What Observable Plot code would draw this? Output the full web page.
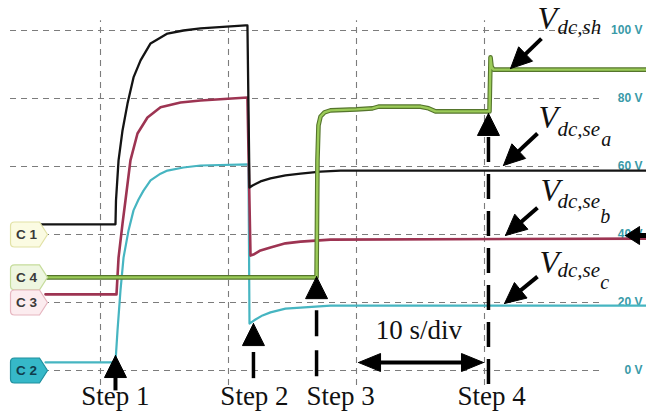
<!DOCTYPE html>
<html><head><meta charset="utf-8">
<script src="https://cdn.jsdelivr.net/npm/d3@7"></script>
<script src="https://cdn.jsdelivr.net/npm/@observablehq/plot@0.6"></script>
<style>html,body{margin:0;padding:0;background:#fff;} #chart svg{display:block;}</style>
</head><body><div id="chart"></div>
<script>
// ---- data (time in s, screen volts) ----
const tSeA = [5.08, 11.17, 11.21, 11.41, 11.72, 12.11, 12.58, 13.13, 13.91, 15.23, 16.48, 17.81, 21.33, 21.48, 21.64, 21.88, 22.50, 23.28, 24.45, 25.63, 27.19, 28.75, 52.66];
const vSeA = [43.0, 43.0, 50.0, 61.8, 70.6, 78.5, 86.2, 91.2, 96.2, 99.1, 100.0, 100.6, 101.5, 101.5, 53.8, 54.4, 55.6, 56.5, 57.4, 57.9, 58.5, 58.8, 58.8];
const tSeB = [5.70, 11.25, 11.41, 11.72, 11.95, 12.34, 12.89, 13.67, 14.69, 16.25, 17.81, 21.48, 21.72, 21.95, 22.50, 23.28, 24.45, 25.63, 27.97, 52.66];
const vSeB = [22.4, 22.4, 33.2, 43.2, 50.0, 61.8, 69.7, 74.4, 77.4, 78.8, 79.4, 80.3, 33.8, 34.1, 35.3, 36.2, 37.4, 37.9, 38.5, 38.8];
const tSeC = [5.70, 11.17, 11.33, 11.56, 11.80, 12.19, 12.58, 12.97, 13.36, 13.91, 14.69, 15.23, 16.48, 17.81, 21.56, 21.64, 22.11, 22.66, 23.28, 24.45, 25.63, 27.97, 52.66];
const vSeC = [2.4, 2.4, 11.8, 23.5, 33.2, 41.2, 47.1, 50.3, 52.9, 55.9, 57.9, 58.8, 59.7, 60.3, 60.6, 13.8, 15.0, 16.2, 17.1, 18.2, 18.5, 19.1, 19.1];
const tSh  = [5.70, 26.88, 26.95, 27.03, 27.19, 27.50, 27.97, 30.00, 31.25, 31.72, 35.00, 35.63, 36.17, 40.39, 40.47, 40.55, 40.70, 52.66];
const vSh  = [27.4, 27.4, 61.8, 72.1, 74.7, 75.9, 76.5, 76.8, 77.1, 77.6, 77.6, 77.1, 76.2, 76.2, 92.1, 89.4, 88.5, 88.5];

const gridVolts = [0, 20, 40, 60, 80, 100];
const voltLabels = ["0 V", "20 V", "40 V", "60 V", "80 V", "100 V"];
const gridTimes = [10, 20, 30, 40];
const channels = ["C 1", "C 4", "C 3", "C 2"];
const channelLevels = [40, 27.4, 20, 0];
const steps = ["Step 1", "Step 2", "Step 3", "Step 4"];
const stepTimes = [11.17, 21.95, 26.88, 40.31];
const timeDiv = "10 s/div";

// ---- scales (shared with geometry helpers) ----
const xDomain = [10, 40], xRange = [100, 484];
const yDomain = [0, 100], yRange = [370, 30];
const sx = d3.scaleLinear(xDomain, xRange), sy = d3.scaleLinear(yDomain, yRange);

const pts = (t, v) => t.map((d, i) => ({t: d, v: v[i]}));

// filled arrowhead polygon: tip at (t,v), pointing angle (deg, 0 = up, clockwise)
function head(id, t, v, angle, L, W) {
  const a = angle * Math.PI / 180, ux = Math.sin(a), uy = -Math.cos(a);
  const px = sx(t), py = sy(v), bx = px - L * ux, by = py - L * uy, nx = -uy, ny = ux;
  return [[px, py], [bx + W / 2 * nx, by + W / 2 * ny], [bx - W / 2 * nx, by - W / 2 * ny], [px, py]]
    .map(([x, y]) => ({id, t: sx.invert(x), v: sy.invert(y)}));
}
function diag(id, t0, v0, t1, v1) {
  const dx = sx(t1) - sx(t0), dy = sy(v1) - sy(v0);
  const ang = Math.atan2(dx, -dy) * 180 / Math.PI;
  const len = Math.hypot(dx, dy);
  const ex = sx(t1) - dx / len * 10, ey = sy(v1) - dy / len * 10;
  return {poly: head(id, t1, v1, ang, 21, 20), stem: {t0, v0, t1: sx.invert(ex), v1: sy.invert(ey)}};
}

const stepTips = [4.4, 13.8, 27.6, 75.6];
const heads = [];
stepTimes.forEach((t, i) => heads.push(...head("s" + i, t, stepTips[i], 0, 22, 22)));
heads.push(...head("dl", 30.16, 2.35, -90, 22, 18));
heads.push(...head("dr", 39.92, 2.35, 90, 22, 18));
heads.push(...head("trig", 51.02, 39.7, -90, 14, 18));
const diags = [
  diag("sh", 44.45, 97.6, 42.03, 88.8),
  diag("a", 44.14, 69.7, 41.48, 60.3),
  diag("b", 44.14, 47.9, 41.64, 39.7),
  diag("c", 44.14, 27.6, 41.56, 19.7)
];
diags.forEach(d => heads.push(...d.poly));

const tagSymbol = {
  draw(ctx) {
    ctx.moveTo(0, 0); ctx.lineTo(-8, -12.5); ctx.lineTo(-33, -12.5);
    ctx.quadraticCurveTo(-37, -12.5, -37, -8.5); ctx.lineTo(-37, 8.5);
    ctx.quadraticCurveTo(-37, 12.5, -33, 12.5); ctx.lineTo(-8, 12.5); ctx.closePath();
  }
};
const tagStyles = [
  {fill: "#fbfbe2", stroke: "#e2e2a6", text: "#3a3a3a"},
  {fill: "#eef6e0", stroke: "#c6dc9c", text: "#3a3a3a"},
  {fill: "#fcecef", stroke: "#e6b6c0", text: "#3a3a3a"},
  {fill: "#36b8c8", stroke: "#1f8f9e", text: "#0f3c4c"}
];

const serif = "'Liberation Serif', 'Times New Roman', serif";
const sans = "'Liberation Sans', Arial, sans-serif";

const vLabels = [
  {V: [44.14, 100.3], sub: [45.70, 99.0, "dc,sh"], ss: null},
  {V: [44.22, 71.2], sub: [45.70, 69.1, "dc,se"], ss: [49.12, 65.9, "a"]},
  {V: [44.38, 50.0], sub: [45.70, 47.9, "dc,se"], ss: [49.05, 43.5, "b"]},
  {V: [44.30, 28.8], sub: [45.70, 27.4, "dc,se"], ss: [49.05, 24.1, "c"]}
];

const marks = [
  Plot.ruleY(gridVolts, {y: d => d, x1: 2.97, x2: 49.3, stroke: "#7c7c7c", strokeWidth: 1.1, strokeDasharray: "6,5"}),
  Plot.ruleX(gridTimes, {x: d => d, y1: -4.4, y2: 102.9, stroke: "#7c7c7c", strokeWidth: 1.1, strokeDasharray: "6,5"}),
  Plot.text(gridVolts, {x: 52.34, y: d => d, text: (d, i) => voltLabels[i], textAnchor: "end", fill: "#3a9aa8", fontSize: 12, fontWeight: "bold", fontFamily: sans}),
  Plot.line(pts(tSeC, vSeC), {x: "t", y: "v", stroke: "#46b5c1", strokeWidth: 2.2}),
  Plot.line(pts(tSeB, vSeB), {x: "t", y: "v", stroke: "#9d3452", strokeWidth: 2.6}),
  Plot.line(pts(tSeA, vSeA), {x: "t", y: "v", stroke: "#141414", strokeWidth: 2.3}),
  Plot.line(pts(tSh, vSh), {x: "t", y: "v", stroke: "#55752c", strokeWidth: 4.6}),
  Plot.line(pts(tSh, vSh), {x: "t", y: "v", stroke: "#9bcb58", strokeWidth: 2.4}),
];
channels.forEach((c, i) => {
  const s = tagStyles[i];
  marks.push(Plot.dot([c], {x: 5.86, y: channelLevels[i], symbol: tagSymbol, r: 10, fill: s.fill, stroke: s.stroke, strokeWidth: 1.2}));
  marks.push(Plot.text([c], {x: 5.86, y: channelLevels[i], dx: -21, text: d => d, fill: s.text, fontSize: 13.5, fontWeight: "bold", fontFamily: sans}));
});
// step arrows
marks.push(Plot.ruleX([stepTimes[0]], {x: d => d, y1: -1.5, y2: -6.0, stroke: "#000", strokeWidth: 4}));
marks.push(Plot.ruleX([stepTimes[1]], {x: d => d, y1: 5.3, y2: -2.4, stroke: "#000", strokeWidth: 3.5}));
marks.push(Plot.ruleX([stepTimes[2]], {x: d => d, y1: 17.6, y2: -2.1, stroke: "#000", strokeWidth: 3.5, strokeDasharray: "26,14"}));
marks.push(Plot.ruleX([stepTimes[3]], {x: d => d, y1: 68.5, y2: -4.4, stroke: "#000", strokeWidth: 3.5, strokeDasharray: "25,12"}));
marks.push(Plot.text(steps, {x: (d, i) => [11.17, 22.03, 28.75, 40.55][i], y: -10, text: d => d, lineAnchor: "bottom", fontFamily: serif, fontSize: 27, fill: "#111"}));
// 10 s/div
marks.push(Plot.ruleY([2.35], {y: d => d, x1: 30.8, x2: 39.3, stroke: "#000", strokeWidth: 4}));
marks.push(Plot.text([timeDiv], {x: 34.88, y: 9.41, text: d => d, lineAnchor: "bottom", fontFamily: serif, fontSize: 27, fill: "#111"}));
// trigger marker stem
marks.push(Plot.ruleY([39.7], {y: d => d, x1: 51.9, x2: 52.7, stroke: "#000", strokeWidth: 5}));
// diagonal arrows
marks.push(Plot.link(diags.map(d => d.stem), {x1: "t0", y1: "v0", x2: "t1", y2: "v1", stroke: "#000", strokeWidth: 4}));
marks.push(Plot.line(heads, {x: "t", y: "v", z: "id", fill: "#000", stroke: "#000", strokeWidth: 1}));
// V labels
vLabels.forEach(l => {
  marks.push(Plot.text(["V"], {x: l.V[0], y: l.V[1], text: d => d, textAnchor: "start", lineAnchor: "bottom", fontFamily: serif, fontStyle: "italic", fontSize: 32, fill: "#111"}));
  marks.push(Plot.text([l.sub[2]], {x: l.sub[0], y: l.sub[1], text: d => d, textAnchor: "start", lineAnchor: "bottom", fontFamily: serif, fontStyle: "italic", fontSize: 21, fill: "#111"}));
  if (l.ss) marks.push(Plot.text([l.ss[2]], {x: l.ss[0], y: l.ss[1], text: d => d, textAnchor: "start", lineAnchor: "bottom", fontFamily: serif, fontStyle: "italic", fontSize: 20, fill: "#111"}));
});

const chart = Plot.plot({
  width: 646, height: 418, margin: 0,
  x: {domain: xDomain, range: xRange, axis: null},
  y: {domain: yDomain, range: yRange, axis: null},
  style: {background: "#fff", overflow: "visible"},
  marks
});
document.getElementById("chart").append(chart);
</script>
</body></html>
